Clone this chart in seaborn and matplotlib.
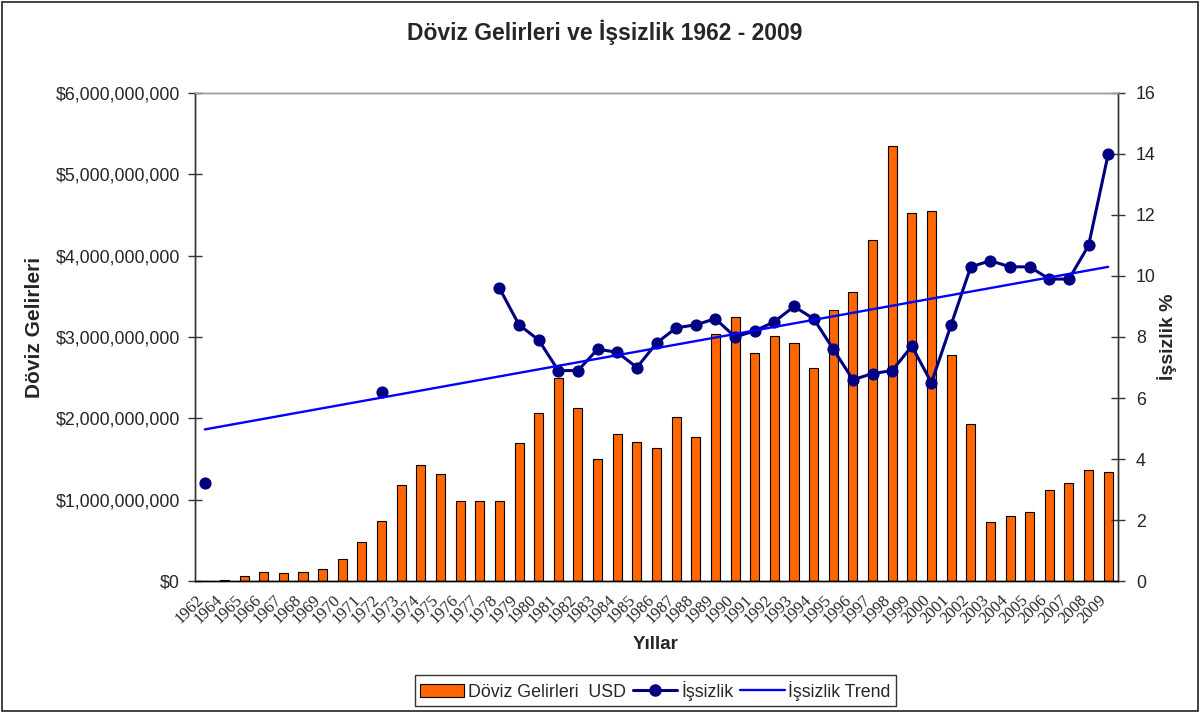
import numpy as np
import pandas as pd
import seaborn as sns
import matplotlib.pyplot as plt
from matplotlib.patches import Patch, Rectangle
from matplotlib.lines import Line2D
from matplotlib.ticker import FuncFormatter, MultipleLocator
from matplotlib.transforms import ScaledTranslation


# veriler (grafikten okunan yaklasik degerler)
yillar = ['1962'] + [str(y) for y in range(1964, 2010)]

doviz_usd = [
    0, 10e6, 61e6, 115e6, 98e6, 115e6, 143e6, 270e6, 476e6, 738e6,
    1176e6, 1430e6, 1320e6, 988e6, 988e6, 988e6, 1697e6, 2070e6, 2496e6, 2131e6,
    1504e6, 1808e6, 1713e6, 1631e6, 2020e6, 1775e6, 3041e6, 3246e6, 2807e6, 3012e6,
    2922e6, 2623e6, 3328e6, 3549e6, 4189e6, 5348e6, 4521e6, 4549e6, 2779e6, 1934e6,
    721e6, 803e6, 852e6, 1119e6, 1209e6, 1369e6, 1336e6,
]

nan = np.nan
issizlik = [
    3.2, nan, nan, nan, nan, nan, nan, nan, nan, 6.2,
    nan, nan, nan, nan, nan, 9.6, 8.4, 7.9, 6.9, 6.9,
    7.6, 7.5, 7.0, 7.8, 8.3, 8.4, 8.6, 8.0, 8.2, 8.5,
    9.0, 8.6, 7.6, 6.6, 6.8, 6.9, 7.7, 6.5, 8.4, 10.3,
    10.5, 10.3, 10.3, 9.9, 9.9, 11.0, 14.0,
]

# trend cizgisi: ilk ve son yil
trend_yillar = ['1962', '2009']
trend_degerler = [4.97, 10.3]

ORANGE = '#FF6600'
NAVY = '#000080'
BLUE = '#0000FF'

df = pd.DataFrame({'yil': yillar, 'doviz': doviz_usd, 'issizlik': issizlik})
df['pos'] = np.arange(len(df))
# bos degerlerde cizgi kopsun diye segment numarasi
df['seg'] = df['issizlik'].isna().cumsum()
df_line = df.dropna(subset=['issizlik'])

df_trend = pd.DataFrame({
    'pos': [yillar.index(y) for y in trend_yillar],
    'deger': trend_degerler,
})

sns.set_style('white')
plt.rcParams['font.family'] = ['Liberation Sans', 'DejaVu Sans']

fig = plt.figure(figsize=(12, 7.13), dpi=100)
ax = fig.add_axes([0.1625, 0.1851, 0.7692, 0.6845])

sns.barplot(data=df, x='yil', y='doviz', color=ORANGE, saturation=1,
            edgecolor='black', linewidth=0.8, width=0.46, ax=ax)

ax2 = ax.twinx()
sns.lineplot(data=df_line, x='pos', y='issizlik', units='seg', estimator=None,
             color=NAVY, linewidth=2.2, marker='o', markersize=8,
             markeredgecolor=NAVY, legend=False, ax=ax2)
sns.lineplot(data=df_trend, x='pos', y='deger', color=BLUE, linewidth=1.7,
             legend=False, ax=ax2)

# eksenler
ax.set_xlim(-0.5, len(yillar) - 0.5)
ax2.set_xlim(-0.5, len(yillar) - 0.5)
ax.set_ylim(0, 6e9)
ax2.set_ylim(0, 16)
ax.yaxis.set_major_locator(MultipleLocator(1e9))
ax2.yaxis.set_major_locator(MultipleLocator(2))
ax.yaxis.set_major_formatter(FuncFormatter(lambda v, p: f"${v:,.0f}"))

ax.set_xlabel('')
ax.set_ylabel('')
ax2.set_xlabel('')
ax2.set_ylabel('')

ax.set_xticks(np.arange(len(yillar)))
ax.set_xticklabels(yillar, rotation=45, ha='right', va='top', rotation_mode='anchor',
                   family=['Liberation Serif', 'DejaVu Serif'], fontsize=12)
ax.set_xticks(np.arange(-0.5, len(yillar), 1), minor=True)
ax.tick_params(axis='x', which='major', length=0, pad=8)
ax.tick_params(axis='x', which='minor', direction='inout', length=8, width=1, color='#333333')
ax.tick_params(axis='y', direction='inout', length=10, width=1, color='#333333',
               labelsize=12.8, pad=6)
ax2.tick_params(axis='y', direction='inout', length=10, width=1, color='#333333',
                labelsize=12.8, pad=8)
for lbl in ax.get_xticklabels():
    lbl.set_transform(lbl.get_transform() + ScaledTranslation(-7 / 72, 0, fig.dpi_scale_trans))

for a in (ax, ax2):
    a.spines['top'].set_color('#999999')
    a.spines['left'].set_color('#333333')
    a.spines['right'].set_color('#333333')
    a.spines['bottom'].set_color('black')
    for s in a.spines.values():
        s.set_linewidth(1)

# metinler
fig.text(0.504, 0.954, 'Döviz Gelirleri ve İşsizlik 1962 - 2009', ha='center', va='center',
         fontsize=16.5, fontweight='bold')
fig.text(0.029, 0.541, 'Döviz Gelirleri', rotation=90, ha='center', va='center',
         fontsize=15, fontweight='bold')
fig.text(0.9725, 0.527, 'İşsizlik %', rotation=90, ha='center', va='center',
         fontsize=14, fontweight='bold')
fig.text(0.546, 0.0954, 'Yıllar', ha='center', va='center', fontsize=13.5, fontweight='bold')

handles = [
    Patch(facecolor=ORANGE, edgecolor='black', linewidth=0.8),
    Line2D([], [], color=NAVY, linewidth=2.2, marker='o', markersize=8),
    Line2D([], [], color=BLUE, linewidth=1.7),
]
labels = ['Döviz Gelirleri  USD', 'İşsizlik', 'İşsizlik Trend']
leg = fig.legend(handles, labels, loc='center', bbox_to_anchor=(0.546, 0.0315), ncol=3,
                 frameon=True, fancybox=False, edgecolor='black', fontsize=12.8,
                 handlelength=2.5, handletextpad=0.2, columnspacing=0.4, borderpad=0.3,
                 borderaxespad=0)
leg.get_frame().set_linewidth(1)

# grafik alani cercevesi
fig.patches.append(Rectangle((0.002, 0.003), 0.996, 0.994, transform=fig.transFigure,
                             fill=False, edgecolor='#222222', linewidth=1.2))

fig.savefig('out.png', dpi=100)
